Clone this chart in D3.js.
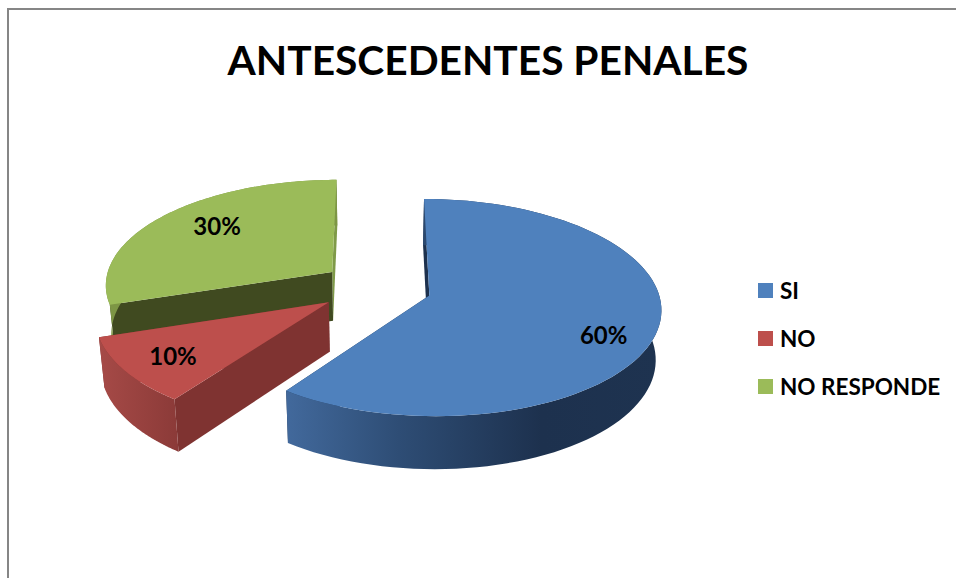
<!DOCTYPE html>
<html>
<head>
<meta charset="utf-8">
<script src="https://cdn.jsdelivr.net/npm/d3@7"></script>
<style>
html,body{margin:0;padding:0;background:#fff;overflow:hidden}
svg{display:block}
text{font-family:Lato,"Liberation Sans",sans-serif;font-weight:700;fill:#000}
</style>
</head>
<body>
<svg id="c" width="956" height="578"></svg>
<script>
const chartTitle = "ANTESCEDENTES PENALES";
const categories = ["SI", "NO", "NO RESPONDE"];
const values = [60, 10, 30];
const topColors = ["#4F81BD", "#BD4F4C", "#9BBB59"];

const W = 956, H = 578;
const svg = d3.select("#c");
const defs = svg.append("defs");

// frame
svg.append("path").attr("d", `M8,${H} V9 H${W}`).attr("fill", "none").attr("stroke", "#868686").attr("stroke-width", 2);

// title
svg.append("text").attr("x", 488).attr("y", 75).attr("text-anchor", "middle").attr("font-size", 40.7).text(chartTitle);

// projection: unit disc in plane coordinates, perspective divide, then scales to pixels
const X0 = 375, Y0 = 287, RX = 228, RY = 105.5;
const persp = 0.11, explode = 0.244, bottomScale = 0.98, depth = 49;
const sx = d3.scaleLinear().domain([-1, 1]).range([X0 - RX, X0 + RX]);
const sy = d3.scaleLinear().domain([-1, 1]).range([Y0 + RY, Y0 - RY]);
const sliceShift = [[1, 0.5], [-0.5, 0], [1.5, 0]];
const project = (u, v, bottom, i) => {
  const w = 1 + persp * v;
  const px = u / w, py = v / w;
  const sh = sliceShift[i];
  if (!bottom) return [sx(px) + sh[0], sy(py) + sh[1]];
  return [X0 + (sx(px) - X0) * bottomScale + sh[0], Y0 + (sy(py) - Y0) * bottomScale + depth / w + sh[1]];
};

const pie = d3.pie().sort(null).value(d => d)(values);
const line = d3.line();

const slices = pie.map((p, i) => {
  const mid = (p.startAngle + p.endAngle) / 2;
  const ox = explode * Math.sin(mid), oy = explode * Math.cos(mid);
  const pt = (a, r, bottom) => project(ox + r * Math.sin(a), oy + r * Math.cos(a), bottom, i);
  const n = 90;
  const angles = d3.range(n + 1).map(k => p.startAngle + (p.endAngle - p.startAngle) * k / n);
  return {i, p, mid, pt, angles};
});

function gradient(id, stops) {
  const g = defs.append("linearGradient").attr("id", id).attr("x1", 0).attr("x2", 1).attr("y1", 0).attr("y2", 0);
  stops.forEach(s => g.append("stop").attr("offset", s[0]).attr("stop-color", s[1]));
}
gradient("outer0", [[0, "#42699c"], [0.3, "#2e4d75"], [0.68, "#1d314e"], [1, "#1e3350"]]);
gradient("outer1", [[0, "#a64a47"], [1, "#8b3a38"]]);
gradient("outer2", [[0, "#7d9645"], [1, "#7d9645"]]);

const startWall = ["#1d314e", "#7f3331", "#404a20"];
const endWall = ["#1d314e", "#7f3331", "#7f9a48"];

function drawSlice(s) {
  const g = svg.append("g");
  const {i, p, pt, angles} = s;
  const a0 = p.startAngle, a1 = p.endAngle;
  const wall = a => line([pt(0, 0), pt(a, 1), pt(a, 1, true), pt(0, 0, true)]) + "Z";
  g.append("path").attr("d", wall(a1)).attr("fill", endWall[i]);
  g.append("path").attr("d", wall(a0)).attr("fill", startWall[i]);
  const outer = angles.map(a => pt(a, 1)).concat(angles.slice().reverse().map(a => pt(a, 1, true)));
  g.append("path").attr("d", line(outer) + "Z").attr("fill", `url(#outer${i})`);
  const top = [pt(0, 0)].concat(angles.map(a => pt(a, 1)));
  g.append("path").attr("d", line(top) + "Z").attr("fill", topColors[i]);
}
[slices[2], slices[0], slices[1]].forEach(drawSlice);

// data labels
const labelRadius = 0.8;
const labelNudge = [[-7, 13], [5, 0], [21, 0]];
slices.forEach(s => {
  const c = s.pt(s.mid, labelRadius);
  svg.append("text")
    .attr("x", c[0] + labelNudge[s.i][0]).attr("y", c[1] + labelNudge[s.i][1])
    .attr("dy", "0.35em").attr("text-anchor", "middle").attr("font-size", 24)
    .text(values[s.i] + "%");
});

// legend
const legendY = d3.scalePoint().domain(categories).range([290.5, 386.5]);
categories.forEach((c, i) => {
  svg.append("rect").attr("x", 758).attr("y", legendY(c) - 7.5).attr("width", 15).attr("height", 15).attr("fill", topColors[i]);
  svg.append("text").attr("x", 780).attr("y", legendY(c)).attr("dy", "0.36em").attr("font-size", 22.5).text(c);
});
</script>
</body>
</html>
